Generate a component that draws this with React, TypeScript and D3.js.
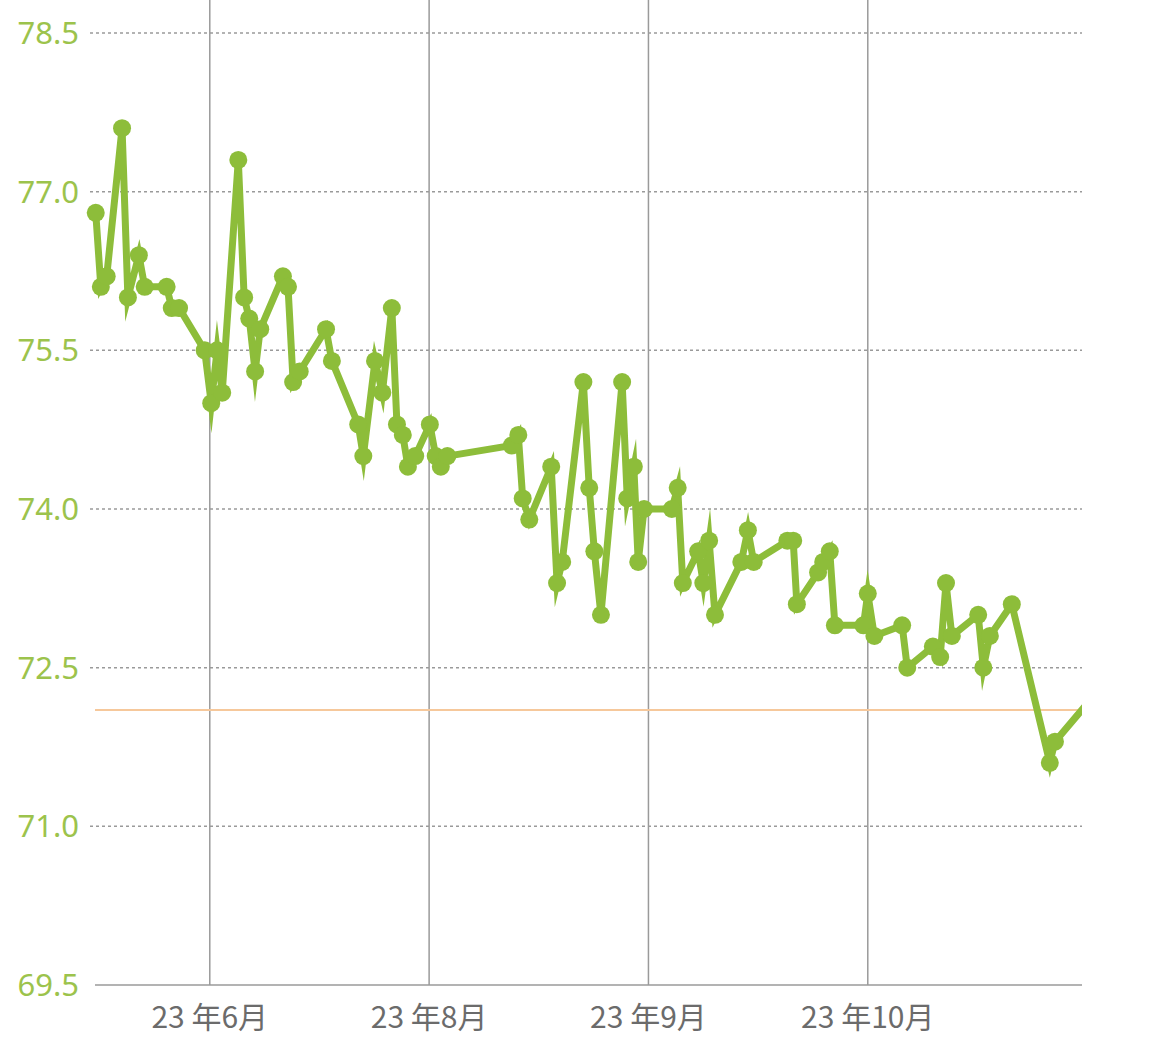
import React from "react";
import * as d3 from "d3";

const days: number[] = [
  0.1, 0.8, 1.6, 3.7, 4.5, 6.0, 6.8, 9.8, 10.5, 11.5,
  15.0, 15.9, 16.7, 17.4, 19.6, 20.4, 21.1, 21.9, 22.6, 25.7,
  26.4, 27.1, 28.0, 31.6, 32.4, 36.0, 36.7, 38.3, 39.3, 40.6,
  41.3, 42.1, 42.8, 43.8, 45.8, 46.6, 47.3, 48.2, 57.0, 57.9,
  58.5, 59.4, 62.4, 63.2, 63.9, 66.8, 67.6, 68.3, 69.2, 72.1,
  72.8, 73.7, 74.3, 75.1, 78.9, 79.7, 80.4, 82.5, 83.2, 84.0,
  84.8, 88.4, 89.3, 90.1, 94.7, 95.5, 96.0, 98.9, 99.6, 100.5,
  101.2, 105.1, 105.7, 106.6, 110.4, 111.1, 114.6, 115.6, 116.4, 117.2,
  120.8, 121.5, 122.4, 125.4, 130.6, 131.3, 136.2,
];

const weights: number[] = [
  76.8, 76.1, 76.2, 77.6, 76.0, 76.4, 76.1, 76.1, 75.9, 75.9,
  75.5, 75.0, 75.5, 75.1, 77.3, 76.0, 75.8, 75.3, 75.7, 76.2,
  76.1, 75.2, 75.3, 75.7, 75.4, 74.8, 74.5, 75.4, 75.1, 75.9,
  74.8, 74.7, 74.4, 74.5, 74.8, 74.5, 74.4, 74.5, 74.6, 74.7,
  74.1, 73.9, 74.4, 73.3, 73.5, 75.2, 74.2, 73.6, 73.0, 75.2,
  74.1, 74.4, 73.5, 74.0, 74.0, 74.2, 73.3, 73.6, 73.3, 73.7,
  73.0, 73.5, 73.8, 73.5, 73.7, 73.7, 73.1, 73.4, 73.5, 73.6,
  72.9, 72.9, 73.2, 72.8, 72.9, 72.5, 72.7, 72.6, 73.3, 72.8,
  73.0, 72.5, 72.8, 73.1, 71.6, 71.8, 72.2,
];

const yTicks: number[] = [69.5, 71.0, 72.5, 74.0, 75.5, 77.0, 78.5];
const monthTickDays: number[] = [15.7, 45.7, 75.7, 105.7];
const monthTickLabels: string[] = ["23 年6月", "23 年8月", "23 年9月", "23 年10月"];
const goalWeight = 72.1;
const xDomain: [number, number] = [0, 135];

const W = 1170;
const H = 1062;
const left = 95;
const right = 1082;
const top = 33;
const bottom = 985;

const GREEN = "#8dbd3a";
const LABEL_GREEN = "#9cc34c";

export default function App() {
  const x = d3.scaleLinear().domain(xDomain).range([left, right]);
  const y = d3.scaleLinear().domain([69.5, 78.5]).range([bottom, top]);
  const pts = days.map((d, i) => ({ d, w: weights[i] }));
  const line = d3
    .line<{ d: number; w: number }>()
    .x((p) => x(p.d))
    .y((p) => y(p.w));
  const visible = pts.filter((p) => p.d <= xDomain[1]);

  return (
    <svg
      width={W}
      height={H}
      style={{ position: "absolute", left: 0, top: 0, background: "#fff" }}
    >
      <defs>
        <clipPath id="plot">
          <rect x={0} y={0} width={right} height={bottom} />
        </clipPath>
      </defs>
      {yTicks.map((t) =>
        t === 69.5 ? null : (
          <line
            key={"g" + t}
            x1={90}
            x2={right}
            y1={y(t)}
            y2={y(t)}
            stroke="#9a9a9a"
            strokeWidth={1.5}
            strokeDasharray="3,3"
          />
        )
      )}
      <line x1={left} x2={right} y1={bottom} y2={bottom} stroke="#9a9a9a" strokeWidth={1.5} />
      {monthTickDays.map((d) => (
        <line key={"v" + d} x1={x(d)} x2={x(d)} y1={0} y2={bottom} stroke="#9a9a9a" strokeWidth={1.5} />
      ))}
      <line x1={left} x2={right} y1={y(goalWeight)} y2={y(goalWeight)} stroke="#f6c89b" strokeWidth={2} />
      {yTicks.map((t) => (
        <text
          key={"t" + t}
          x={79}
          y={y(t)}
          dy="0.36em"
          textAnchor="end"
          fill={LABEL_GREEN}
          fontFamily="'Noto Sans', 'Liberation Sans', sans-serif"
          fontSize={31}
        >
          {t.toFixed(1)}
        </text>
      ))}
      {monthTickDays.map((d, i) => (
        <text
          key={"l" + d}
          x={x(d)}
          y={1017}
          dy="0.36em"
          textAnchor="middle"
          fill="#6b6b6b"
          fontFamily="'Noto Sans CJK JP', 'Noto Sans', sans-serif"
          fontSize={30}
        >
          {monthTickLabels[i]}
        </text>
      ))}
      <g clipPath="url(#plot)">
        <path
          d={line(pts) || ""}
          fill="none"
          stroke={GREEN}
          strokeWidth={7}
          strokeLinejoin="miter"
          strokeMiterlimit={10}
        />
        {visible.map((p, i) => (
          <circle key={i} cx={x(p.d)} cy={y(p.w)} r={9} fill={GREEN} />
        ))}
      </g>
    </svg>
  );
}
